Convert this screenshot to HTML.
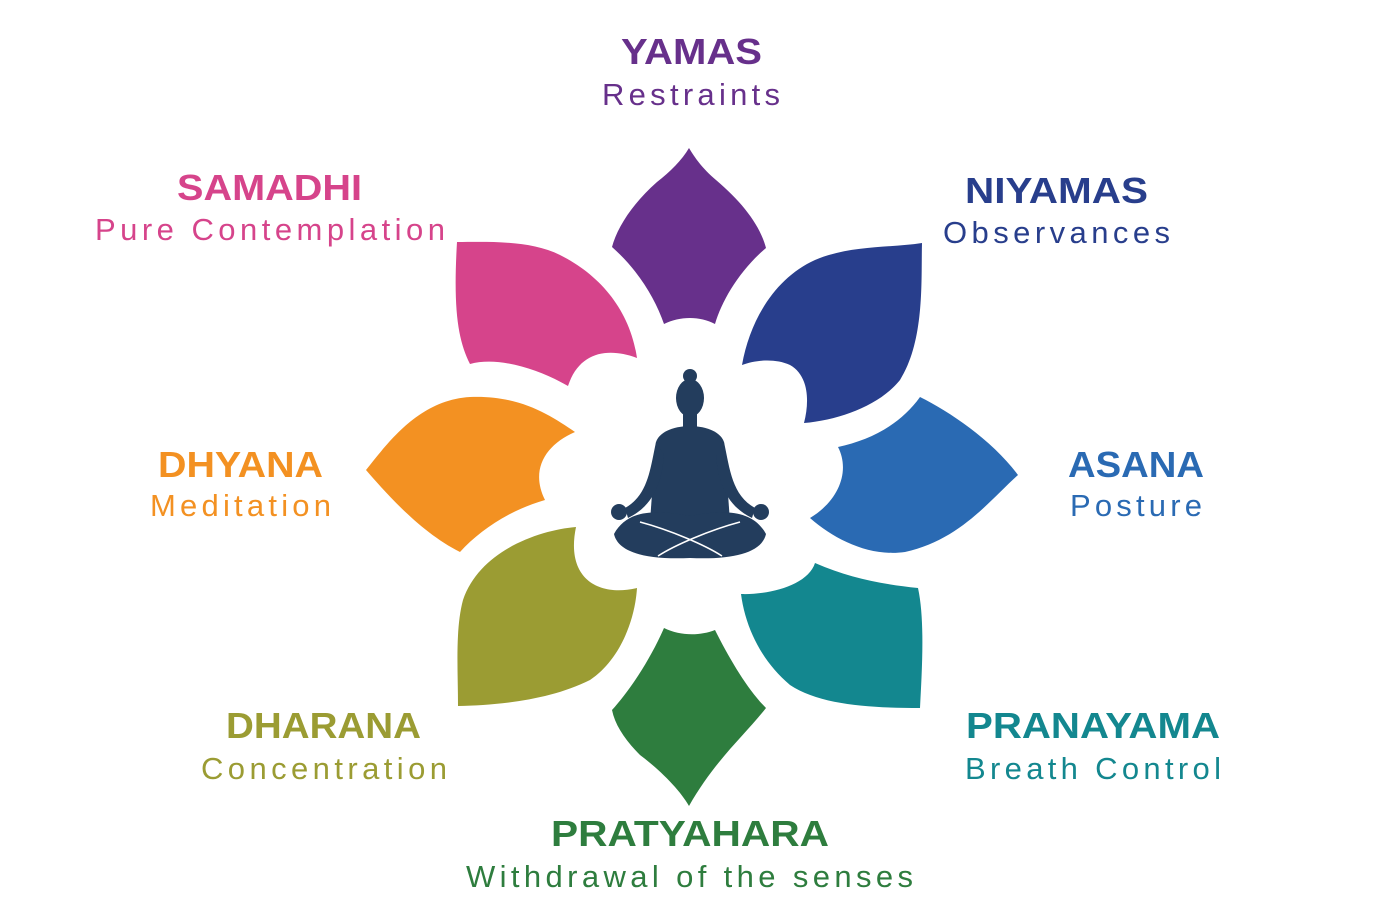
<!DOCTYPE html>
<html><head><meta charset="utf-8"><style>
html,body{margin:0;padding:0;background:#fff;width:1400px;height:924px;overflow:hidden}
svg{display:block}
.t{font-family:"Liberation Sans",sans-serif;font-weight:bold;font-size:36px}
.s{font-family:"Liberation Sans",sans-serif;font-size:31px}
</style></head><body>
<svg width="1400" height="924" viewBox="0 0 1400 924">
<!-- petals -->
<path fill="#67308b" d="M689,148 C682,160 670,172 657,182 C632,204 617,228 612,247 C638,270 655,298 664,324 C680,316 700,316 715,324 C722,300 740,270 766,248 C760,225 742,202 716,180 C702,168 695,158 689,148 Z"/>
<path fill="#283e8c" d="M742,365 C750,320 775,278 815,260 C850,245 890,248 922,243 C921,280 925,340 900,380 C880,405 840,420 804,423 C810,400 808,375 790,365 C775,358 755,360 742,365 Z"/>
<path fill="#d6448b" d="M457,242 C490,242 530,240 560,255 C600,275 630,310 637,358 C610,348 580,350 568,386 C540,370 500,356 470,364 C458,340 453,310 457,242 Z"/>
<path fill="#2a6ab3" d="M838,447 C870,440 900,425 920,397 C950,412 992,440 1018,475 C990,500 960,540 905,552 C870,557 835,540 810,518 C840,500 850,470 838,447 Z"/>
<path fill="#f39122" d="M575,432 C550,415 520,395 470,397 C420,400 390,440 366,470 C385,492 420,532 460,552 C480,530 510,510 545,500 C530,470 545,445 575,432 Z"/>
<path fill="#9b9c33" d="M576,527 C540,530 480,550 463,600 C455,630 458,670 458,706 C500,705 550,700 590,680 C620,660 635,620 637,588 C600,597 565,580 576,527 Z"/>
<path fill="#13878f" d="M741,594 C770,595 808,585 815,563 C850,578 880,584 918,588 C925,620 922,670 920,708 C870,708 820,705 790,685 C760,660 745,625 741,594 Z"/>
<path fill="#2e7d3e" d="M664,628 C680,636 700,636 715,630 C730,660 748,690 766,708 C745,735 715,760 689,806 C680,790 660,770 640,755 C625,740 615,725 612,710 C630,690 650,660 664,628 Z"/>
<!-- figure -->
<g fill="#233d5d">
<circle cx="690" cy="376" r="7"/>
<ellipse cx="690" cy="398" rx="14" ry="19"/>
<rect x="683" y="410" width="14" height="18"/>
<path d="M656,442 C660,430 678,426 690,426 C702,426 720,430 724,442 L727,480 L730,522 L650,522 L653,480 Z"/>
<path d="M656,442 C650,470 648,495 625,508 L628,518 C655,505 662,480 664,455 Z"/>
<path d="M724,442 C730,470 732,495 755,508 L752,518 C725,505 718,480 716,455 Z"/>
<circle cx="619" cy="512" r="8"/>
<circle cx="761" cy="512" r="8"/>
<path d="M614,534 C628,508 660,510 690,516 C720,510 752,508 766,534 C762,552 735,560 690,558 C645,560 618,552 614,534 Z"/>
</g>
<path d="M640,522 C670,530 705,545 722,556 M740,522 C710,530 675,545 658,556" stroke="#fff" stroke-width="1.5" fill="none"/>
<!-- labels -->
<g class="t">
<text x="621" y="64" fill="#67308b" textLength="141" lengthAdjust="spacingAndGlyphs">YAMAS</text>
<text x="965" y="203" fill="#283e8c" textLength="183" lengthAdjust="spacingAndGlyphs">NIYAMAS</text>
<text x="177" y="200" fill="#d6448b" textLength="185" lengthAdjust="spacingAndGlyphs">SAMADHI</text>
<text x="1068" y="477" fill="#2a6ab3" textLength="136" lengthAdjust="spacingAndGlyphs">ASANA</text>
<text x="158" y="477" fill="#f39122" textLength="165" lengthAdjust="spacingAndGlyphs">DHYANA</text>
<text x="226" y="738" fill="#9b9c33" textLength="195" lengthAdjust="spacingAndGlyphs">DHARANA</text>
<text x="966" y="738" fill="#13878f" textLength="254" lengthAdjust="spacingAndGlyphs">PRANAYAMA</text>
<text x="551" y="846" fill="#2e7d3e" textLength="278" lengthAdjust="spacingAndGlyphs">PRATYAHARA</text>
</g>
<g class="s">
<text x="602" y="105" fill="#67308b" textLength="178" lengthAdjust="spacing">Restraints</text>
<text x="943" y="243" fill="#283e8c" textLength="227" lengthAdjust="spacing">Observances</text>
<text x="95" y="240" fill="#d6448b" textLength="350" lengthAdjust="spacing">Pure Contemplation</text>
<text x="1070" y="516" fill="#2a6ab3" textLength="132" lengthAdjust="spacing">Posture</text>
<text x="150" y="516" fill="#f39122" textLength="181" lengthAdjust="spacing">Meditation</text>
<text x="201" y="779" fill="#9b9c33" textLength="246" lengthAdjust="spacing">Concentration</text>
<text x="965" y="779" fill="#13878f" textLength="256" lengthAdjust="spacing">Breath Control</text>
<text x="466" y="887" fill="#2e7d3e" textLength="447" lengthAdjust="spacing">Withdrawal of the senses</text>
</g>
</svg>
</body></html>
